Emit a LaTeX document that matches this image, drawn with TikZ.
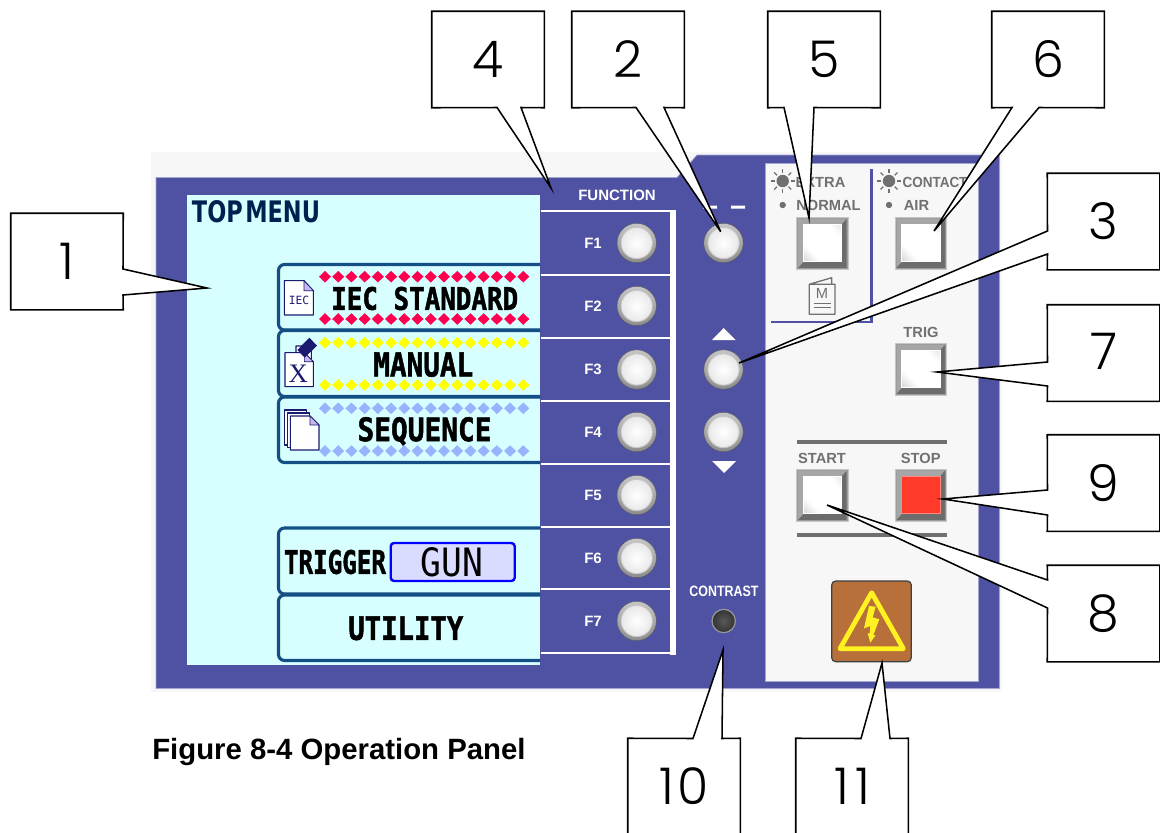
\documentclass[tikz,border=0pt]{standalone}
\usepackage{fontspec}
\usepackage{graphicx}
\usetikzlibrary{shapes.geometric,calc}
\setmainfont{Liberation Sans}
\newfontfamily\numfont{Poppins Light}
\newfontfamily\menufont{DejaVu Sans Mono}[BoldFeatures={FakeBold=1.6}]
\newfontfamily\headfont{DejaVu Sans}
\newfontfamily\serfont{Liberation Serif}
\definecolor{panelblue}{HTML}{4F52A2}
\definecolor{panelhalo}{HTML}{A4A6D2}
\definecolor{pagegrey}{HTML}{F7F7F7}
\definecolor{screencol}{HTML}{D8FFFF}
\definecolor{rowblue}{HTML}{134F84}
\definecolor{labelgrey}{HTML}{707070}
\definecolor{navy}{HTML}{002050}
\definecolor{iconnavy}{HTML}{1A1A70}
\definecolor{foldlilac}{HTML}{C9B8EE}
\definecolor{gunfill}{HTML}{DADCFF}
\definecolor{stopred}{HTML}{FF3A2A}
\definecolor{hvbrown}{HTML}{B8703A}
\definecolor{hvyellow}{HTML}{FFF220}
\definecolor{facegrey}{HTML}{B4B4B4}
\definecolor{bevellight}{HTML}{A6A6A6}
\definecolor{beveldark}{HTML}{6C6C6C}
\definecolor{rimgrey}{HTML}{9C9C9C}
\pgfdeclarehorizontalshading{facesh}{100bp}{color(0bp)=(facegrey);color(32bp)=(white);color(72bp)=(white);color(100bp)=(facegrey!70)}
\pgfdeclarelayer{labels}
\pgfsetlayers{main,labels}
\newdimen\fitw \newdimen\fith
\newcommand\fitpx[3]{\fitw=#1pt \fitw=.75\fitw \fith=#2pt \fith=.75\fith \resizebox{\fitw}{\fith}{#3}}
\tikzset{
  callout/.style={draw=black,fill=white,line width=1.15pt,line join=miter},
  calltext/.style={minimum width=84pt,minimum height=72pt,inner sep=0pt,font=\numfont\fontsize{38}{40}\selectfont},
  rowframe/.style={draw=rowblue,line width=2.3pt,rounded corners=4.5pt},
  keylabel/.style={text=white,font=\bfseries\fontsize{11.25}{13}\selectfont,inner sep=0pt},
  greylabel/.style={text=labelgrey,font=\bfseries\fontsize{11}{13}\selectfont,inner sep=0pt},
  menutext/.style={inner sep=0pt,font=\menufont\bfseries},
  knob/.style={circle,minimum size=29.5pt,inner sep=0pt,top color=gray!45,bottom color=gray!110!black,draw=gray!70!black,line width=.3pt},
  knobface/.style={circle,minimum size=23.5pt,inner sep=0pt,inner color=white,outer color=gray!18,draw=gray!45,line width=.7pt},
  doc/.style={draw=iconnavy,fill=white,line width=.8pt,line join=round},
  fold/.style={draw=iconnavy,fill=foldlilac,line width=.5pt},
  sep/.style={draw=white,line width=1.5pt},
  greyrule/.style={draw=labelgrey,line width=2.4pt},
}
\newcommand\roundkey[3]{\node[knob] (#1) at (#2,#3) {}; \node[knobface] (#1i) at (#2,#3) {};}
\newcommand\sunicon[2]{\fill[labelgrey] (#1,#2) circle (6.2);
  \foreach \a in {0,45,...,315}{\draw[labelgrey,line width=1pt] ($(#1,#2)+(\a:8)$) -- ($(#1,#2)+(\a:12)$);}}
\newcommand\squarekey[3]{\begin{scope}[shift={(#1,#2)}]
  \fill[rimgrey] (0,0) rectangle (51.5,52);
  \fill[bevellight] (1.5,1.5) rectangle (50,50.5);
  \fill[beveldark] (50,1.5) -- (50,50.5) -- (1.5,50.5) -- (7,44.5) -- (45,44.5) -- (45,7) -- cycle;
  \draw[gray!45,line width=.5pt] (0,0) rectangle (51.5,52);
  #3
\end{scope}}
\begin{document}
\begin{tikzpicture}[x=.75pt,y=-.75pt]
\useasboundingbox (0,0) rectangle (1160,832);
% panel
\fill[pagegrey] (151,152) rectangle (1002,692);
\draw[fill=panelblue,draw=panelhalo,line width=.5pt] (156,177.5) -- (677,177.5) -- (697,155) -- (999.5,155) -- (999.5,688.5) -- (156,688.5) -- cycle;
\draw[fill=pagegrey,draw=panelhalo,line width=.5pt] (765,163.5) rectangle (978,681);
\fill[screencol] (187,195) rectangle (540,665);
% function frame
\fill[white] (669.5,210) rectangle (676,654.5);
\foreach \yy in {211,275,338,401,463.5,527,589,653}{\draw[sep] (541,\yy) -- (672,\yy);}
\node[keylabel] (fnlabel) at (617,195.5) {FUNCTION};
\foreach \n/\yy in {1/243,2/306,3/369.5,4/432,5/495,6/558,7/621}{
  \node[keylabel] (l\n) at (593,\yy) {F\n};
  \roundkey{f\n}{636.7}{\yy}
}
% menu rows
\draw[rowframe] (540,264.5) -- (278.5,264.5) -- (278.5,330) -- (540,330);
\draw[rowframe] (540,330.5) -- (278.5,330.5) -- (278.5,396.5) -- (540,396.5);
\draw[rowframe] (540,397) -- (278.5,397) -- (278.5,462.5) -- (540,462.5);
\draw[rowframe] (540,528) -- (278.5,528) -- (278.5,594) -- (540,594);
\draw[rowframe] (540,595) -- (278.5,595) -- (278.5,660.5) -- (540,660.5);
\foreach \i in {0,...,15}{
  \foreach \yy/\cc in {276.7/FF0050,319/FF0050,342.7/FFFF00,385/FFFF00,408.3/99B4FF,451/99B4FF}{
    \definecolor{dcol}{HTML}{\cc}
    \fill[dcol] ({325+13.22*\i-6},\yy) -- ({325+13.22*\i},{\yy-5.8}) -- ({325+13.22*\i+6},\yy) -- ({325+13.22*\i},{\yy+5.8}) -- cycle;
  }
}
\node[inner sep=0pt,text=navy,font=\headfont\bfseries] (topmenu) at (256,212) {\fitpx{128}{22}{TOP\kern-.12em\ \kern-.12em MENU}};
\node[menutext] (iec) at (424.7,298.5) {\fitpx{187}{23}{IEC STANDARD}};
\node[menutext] (manual) at (423.3,364.7) {\fitpx{100}{24}{MANUAL}};
\node[menutext] (sequence) at (424.5,431.3) {\fitpx{134}{24}{SEQUENCE}};
\node[menutext] (trigger) at (335,562) {\fitpx{102}{24}{TRIGGER}};
\node[draw=blue,fill=gunfill,line width=1.8pt,rounded corners=2.5pt,minimum width=93pt,minimum height=28.5pt,inner sep=0pt] (gunbox) at (452.7,562) {};
\node[inner sep=0pt,font=\menufont] (gun) at (452,562) {\fitpx{62.5}{29}{GUN}};
\node[menutext] (utility) at (405.8,628.3) {\fitpx{115}{23.5}{UTILITY}};
% icons (coordinates of the 3x crop)
\begin{scope}[shift={(150,170)},x=.25pt,y=-.25pt]
  \draw[doc] (403,332) -- (462,332) -- (490,362) -- (490,435) -- (403,435) -- cycle;
  \draw[fold] (462,332) -- (490,362) -- (462,362) -- cycle;
  \node[inner sep=0pt,text=iconnavy,font=\menufont\fontsize{8.5}{9}\selectfont] (iecicon) at (447,392) {IEC};
  \draw[doc] (438,528) -- (472,528) -- (484,545) -- (484,575) -- (438,575) -- cycle;
  \draw[doc] (405,548) -- (463,548) -- (490,575) -- (490,650) -- (405,650) -- cycle;
  \draw[fold] (463,548) -- (490,575) -- (463,575) -- cycle;
  \fill[iconnavy] (442,540) -- (478,503) -- (501,527) -- (464,563) -- cycle;
  \node[inner sep=0pt,text=iconnavy,font=\serfont\fontsize{20}{20}\selectfont] (xicon) at (445,611) {X};
  \draw[doc] (403,720) -- (470,720) -- (470,825) -- (403,825) -- cycle;
  \draw[doc] (412,729) -- (478,729) -- (478,832) -- (412,832) -- cycle;
  \draw[doc] (421,738) -- (480,738) -- (507,765) -- (507,840) -- (421,840) -- cycle;
  \draw[fold] (480,738) -- (507,765) -- (480,765) -- cycle;
\end{scope}
% centre column
\fill[white] (703,205.5) rectangle (717,208.5) (731,205.5) rectangle (745,208.5);
\roundkey{menukey}{723.5}{243}
\fill[white] (712,340) -- (735.5,340) -- (723.7,328) -- cycle;
\roundkey{upkey}{723.5}{369.5}
\roundkey{downkey}{723.5}{432}
\fill[white] (712,461) -- (736,461) -- (724,473) -- cycle;
\node[keylabel] (contrast) at (724,591) {\scalebox{.83}[1]{CONTRAST}};
\node[circle,minimum size=17.5pt,inner sep=0pt,inner color=gray!70!black,outer color=black!80,draw=gray!80,line width=.9pt] (contrastknob) at (723.7,621) {};
% right panel
\draw[panelblue,line width=1.9pt] (871.7,169) -- (871.7,321.8) -- (771,321.8);
\sunicon{782.7}{181}
\sunicon{889}{181}
\fill[labelgrey] (782.7,205) circle (3.2) (889,205) circle (3.2);
\node[greylabel] (extra) at (820.5,182) {EXTRA};
\node[greylabel] (contact) at (935,182) {\scalebox{.92}[1]{CONTACT}};
\node[greylabel] (normal) at (828.5,205) {NORMAL};
\node[greylabel] (air) at (916.5,205) {AIR};
\node[greylabel] (trig) at (921,332) {TRIG};
\node[greylabel] (start) at (822,458) {START};
\node[greylabel] (stop) at (920.7,458) {STOP};
\squarekey{796.7}{217.3}{\draw[white,line width=.6pt,shading=facesh,shading angle=45] (6.7,6.7) rectangle (45,44.5);}
\squarekey{895}{217.3}{\draw[white,line width=.6pt,shading=facesh,shading angle=45] (6.7,6.7) rectangle (45,44.5);}
\squarekey{895}{343.3}{\draw[white,line width=.6pt,shading=facesh,shading angle=45] (6.7,6.7) rectangle (45,44.5);}
\squarekey{796.7}{469.3}{\draw[white,line width=.6pt,shading=facesh,shading angle=45] (6.7,6.7) rectangle (45,44.5);}
\squarekey{895}{469.3}{\draw[draw=stopred!60!white,fill=stopred,line width=.6pt] (6.7,6.7) rectangle (45,44.5);}
% manual icon
\draw[labelgrey,line width=1pt,fill=pagegrey,line join=round] (809.3,284.3) -- (831.7,277.7) -- (831.7,284.3) (809.3,284.3) rectangle (835,314.3);
\node[inner sep=0pt,text=labelgrey,font=\fontsize{11}{12}\selectfont] (mlabel) at (822,293.5) {M};
\draw[labelgrey,line width=1pt] (814,303.3) -- (830.7,303.3) (814,307.5) -- (830.7,307.5);
% start / stop rules
\draw[greyrule] (796.7,442) -- (946.7,442);
\draw[greyrule] (796.7,535) -- (946.7,535);
% high voltage button
\draw[fill=hvbrown,draw=black!75,line width=.9pt,rounded corners=3pt] (831.7,581) rectangle (911.3,661.7);
\begin{scope}[shift={(680,420)},x=.25pt,y=-.25pt]
  \draw[hvyellow,line width=3.6pt,line join=round] (575,518) -- (480,686) -- (670,686) -- cycle;
  \fill[hvyellow] (567,558) -- (587,560) -- (578,592) -- (598,598) -- (580,645) -- (587,645) -- (571,668) -- (563,640) -- (569,640) -- (571,618) -- (552,625) -- cycle;
\end{scope}
% caption
\node[anchor=west,inner sep=0pt,font=\bfseries\fontsize{22}{24}\selectfont] (caption) at (152,752) {Figure 8-4 Operation Panel};
% callouts
\begin{pgfonlayer}{labels}
  \node[calltext] (c1) at (67,261.5) {1};
  \node[calltext] (c4) at (488,59.5) {4};
  \node[calltext] (c2) at (628,59.5) {2};
  \node[calltext] (c5) at (824,59.5) {5};
  \node[calltext] (c6) at (1048,59.5) {6};
  \node[calltext] (c3) at (1103.5,221.5) {3};
  \node[calltext] (c7) at (1103.5,353) {\raisebox{2.4pt}{7}};
  \node[calltext] (c9) at (1103.5,483) {9};
  \node[calltext] (c8) at (1103.5,613.5) {8};
  \node[calltext] (c10) at (684,786.5) {\raisebox{1pt}{1\kern.05em 0}};
  \node[calltext] (c11) at (852,786.5) {\raisebox{1pt}{1\kern.12em 1}};
\end{pgfonlayer}
\coordinate (t1) at (207,288);
\coordinate (t4) at (551,188);
\coordinate (t2) at (720.7,231.7);
\coordinate (t5) at (809,218);
\coordinate (t6) at (934,231);
\coordinate (t3) at (739,363);
\coordinate (t7) at (937,372);
\coordinate (t9) at (943,499);
\coordinate (t8) at (827,505);
\coordinate (t10) at (723,650);
\coordinate (t11) at (882,663);
\draw[callout] (c1.north west) -- (c1.north east) -- (123,269) -- (t1) -- (123,295) -- (c1.south east) -- (c1.south west) -- cycle;
\draw[callout] (c4.north west) -- (c4.north east) -- (c4.south east) -- (521,107.5) -- (t4) -- (497,107.5) -- (c4.south west) -- cycle;
\draw[callout] (c2.north west) -- (c2.north east) -- (c2.south east) -- (664,107.5) -- (t2) -- (636,107.5) -- (c2.south west) -- cycle;
\draw[callout] (c5.north west) -- (c5.north east) -- (c5.south east) -- (814,107.5) -- (t5) -- (784,107.5) -- (c5.south west) -- cycle;
\draw[callout] (c6.north west) -- (c6.north east) -- (c6.south east) -- (1039,107.5) -- (t6) -- (1012,107.5) -- (c6.south west) -- cycle;
\draw[callout] (c3.north west) -- (c3.north east) -- (c3.south east) -- (c3.south west) -- (1047.5,254) -- (t3) -- (1047.5,231) -- cycle;
\draw[callout] (c7.north west) -- (c7.north east) -- (c7.south east) -- (c7.south west) -- (1047.5,386) -- (t7) -- (1047.5,362) -- cycle;
\draw[callout] (c9.north west) -- (c9.north east) -- (c9.south east) -- (c9.south west) -- (1047.5,515) -- (t9) -- (1047.5,490) -- cycle;
\draw[callout] (c8.north west) -- (c8.north east) -- (c8.south east) -- (c8.south west) -- (1047.5,608) -- (t8) -- (1047.5,580) -- cycle;
\draw[callout] (c10.south west) -- (c10.north west) -- (693,738.5) -- (t10) -- (722,738.5) -- (c10.north east) -- (c10.south east) -- cycle;
\draw[callout] (c11.south west) -- (c11.north west) -- (861,738.5) -- (t11) -- (890,738.5) -- (c11.north east) -- (c11.south east) -- cycle;
\end{tikzpicture}
\end{document}
